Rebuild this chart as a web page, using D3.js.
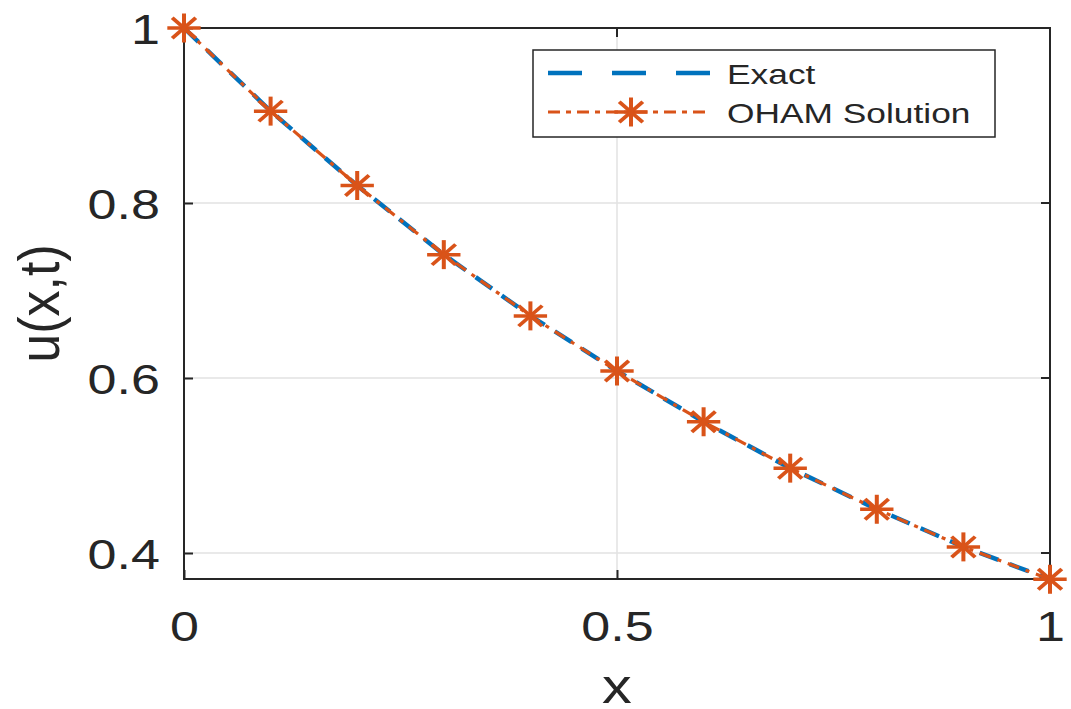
<!DOCTYPE html>
<html>
<head>
<meta charset="utf-8">
<script src="https://cdn.jsdelivr.net/npm/d3@7"></script>
<style>
  html, body { margin: 0; padding: 0; background: #fff; }
  svg { display: block; font-family: "Liberation Sans", Arial, Helvetica, sans-serif; }
</style>
</head>
<body>
<svg id="chart" width="1071" height="709"></svg>
<script>
// Sample positions and solution values u(x,t)
const xValues = [0, 0.1, 0.2, 0.3, 0.4, 0.5, 0.6, 0.7, 0.8, 0.9, 1.0];
const exactValues = [1.000, 0.905, 0.820, 0.741, 0.671, 0.608, 0.550, 0.497, 0.450, 0.407, 0.370];
const ohamValues  = [1.000, 0.905, 0.820, 0.741, 0.671, 0.608, 0.550, 0.497, 0.450, 0.407, 0.370];
const xTicks = [0, 0.5, 1];
const yTicks = [0.4, 0.6, 0.8, 1];
const seriesNames = ["Exact", "OHAM Solution"];

const svg = d3.select("#chart");
const margin = { left: 184, right: 21, top: 28, bottom: 130 };
const W = 1071, H = 709;
const x = d3.scaleLinear().domain([0, 1]).range([margin.left, W - margin.right]);
const y = d3.scaleLinear().domain([0.3703, 1]).range([H - margin.bottom, margin.top]);

const axisColor = "#262626";
const blue = "#0072BD";
const orange = "#D95319";
const sx = 1.24; // horizontal stretch of the text glyphs

// grid
const grid = svg.append("g");
grid.selectAll("line.gx").data(xTicks).join("line")
  .attr("x1", d => x(d)).attr("x2", d => x(d))
  .attr("y1", y.range()[0]).attr("y2", y.range()[1])
  .attr("stroke", "#e2e2e2").attr("stroke-width", 1.5);
grid.selectAll("line.gy").data(yTicks).join("line")
  .attr("y1", d => y(d)).attr("y2", d => y(d))
  .attr("x1", x.range()[0]).attr("x2", x.range()[1])
  .attr("stroke", "#e2e2e2").attr("stroke-width", 1.5);

// axes (ticks pointing inward)
const fmt = d => d3.format("~g")(d);
const xAxis = d3.axisBottom(x).tickValues(xTicks).tickFormat(fmt).tickSizeInner(-9).tickSizeOuter(0).tickPadding(24);
const yAxis = d3.axisLeft(y).tickValues(yTicks).tickFormat(fmt).tickSizeInner(-9).tickSizeOuter(0).tickPadding(24);

const gx = svg.append("g").attr("transform", `translate(0,${y.range()[0]})`).call(xAxis);
const gy = svg.append("g").attr("transform", `translate(${x.range()[0]},0)`).call(yAxis);
[gx, gy].forEach(g => {
  g.select(".domain").remove();
  g.selectAll(".tick line").attr("stroke", axisColor).attr("stroke-width", 2);
  g.selectAll(".tick text").attr("fill", axisColor).attr("font-size", 42)
    .attr("font-family", "Liberation Sans, Arial, sans-serif");
});
gx.selectAll(".tick text").attr("y", 0).attr("dy", 0)
  .attr("transform", `translate(0,62) scale(${sx},1)`);
gy.selectAll(".tick text").attr("x", 0).attr("dy", "0.36em")
  .attr("transform", `translate(-24,0) scale(${sx},1)`);

// top/right tick marks
svg.append("g").selectAll("line").data(xTicks).join("line")
  .attr("x1", d => x(d)).attr("x2", d => x(d))
  .attr("y1", y.range()[1]).attr("y2", y.range()[1] + 9)
  .attr("stroke", axisColor).attr("stroke-width", 2);
svg.append("g").selectAll("line").data(yTicks).join("line")
  .attr("y1", d => y(d)).attr("y2", d => y(d))
  .attr("x1", x.range()[1]).attr("x2", x.range()[1] - 9)
  .attr("stroke", axisColor).attr("stroke-width", 2);

// box
svg.append("rect")
  .attr("x", x.range()[0]).attr("y", y.range()[1])
  .attr("width", x.range()[1] - x.range()[0])
  .attr("height", y.range()[0] - y.range()[1])
  .attr("fill", "none").attr("stroke", axisColor).attr("stroke-width", 2);

// axis labels
svg.append("text")
  .attr("transform", `translate(${x(0.5)},703) scale(${sx},1)`)
  .attr("text-anchor", "middle").attr("font-size", 48).attr("fill", axisColor).text("x");
svg.append("text")
  .attr("transform", `translate(59,${(y.range()[0] + y.range()[1]) / 2}) scale(1.1,1) rotate(-90)`)
  .attr("text-anchor", "middle").attr("font-size", 52).attr("fill", axisColor).text("u(x,t)");

// series
const line = d3.line().x(d => x(d[0])).y(d => y(d[1]));
const exactData = xValues.map((v, i) => [v, exactValues[i]]);
const ohamData = xValues.map((v, i) => [v, ohamValues[i]]);

svg.append("path").datum(exactData).attr("d", line)
  .attr("fill", "none").attr("stroke", blue).attr("stroke-width", 4.5)
  .attr("stroke-dasharray", "20,12");

svg.append("path").datum(ohamData).attr("d", line)
  .attr("fill", "none").attr("stroke", orange).attr("stroke-width", 3.2)
  .attr("stroke-dasharray", "12,7,4,7");

// asterisk marker: eight arms
function star(g, cx, cy, r) {
  const s = g.append("g").attr("transform", `translate(${cx},${cy}) scale(1.15,1)`);
  [0, 45, 90, 135].forEach(a => {
    const rad = a * Math.PI / 180;
    s.append("line")
      .attr("x1", -r * Math.cos(rad)).attr("y1", -r * Math.sin(rad))
      .attr("x2", r * Math.cos(rad)).attr("y2", r * Math.sin(rad))
      .attr("stroke", orange).attr("stroke-width", 3.5).attr("stroke-linecap", "butt");
  });
}
const markers = svg.append("g");
ohamData.forEach(d => star(markers, x(d[0]), y(d[1]), 14.5));

// legend
const lg = svg.append("g");
lg.append("rect").attr("x", 533).attr("y", 50).attr("width", 462).attr("height", 87)
  .attr("fill", "#fff").attr("stroke", axisColor).attr("stroke-width", 1.5);
lg.append("line").attr("x1", 548).attr("x2", 711).attr("y1", 73).attr("y2", 73)
  .attr("stroke", blue).attr("stroke-width", 4.5).attr("stroke-dasharray", "34,30");
lg.append("line").attr("x1", 548).attr("x2", 711).attr("y1", 112).attr("y2", 112)
  .attr("stroke", orange).attr("stroke-width", 3.2).attr("stroke-dasharray", "12,6,5,6");
star(lg, 631, 112, 14.5);
seriesNames.forEach((name, i) => {
  lg.append("text")
    .attr("transform", `translate(727,${84 + 39 * i}) scale(${sx},1)`)
    .attr("font-size", 28.5).attr("fill", axisColor).text(name);
});
</script>
</body>
</html>
